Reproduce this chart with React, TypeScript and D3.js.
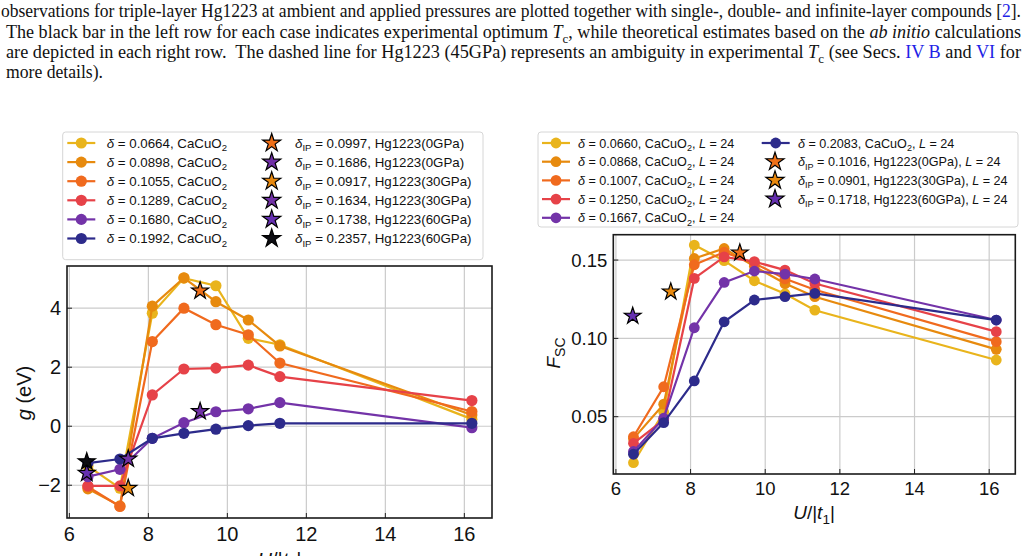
import React from "react";
import * as d3 from "d3";

// U/|t1| sampling shared by every CaCuO2 curve
const uValues = [6.47, 7.28, 8.1, 8.9, 9.71, 10.53, 11.33, 16.19];

// left panel: g (eV)
const gDeltas = ["0.0664", "0.0898", "0.1055", "0.1289", "0.1680", "0.1992"];
const g0664 = [-1.35, -2.1, 3.83, 5.02, 4.76, 2.98, 2.76, 0.24];
const g0898 = [-2.12, -2.7, 4.07, 5.03, 4.22, 3.6, 2.72, 0.38];
const g1055 = [-2.05, -2.72, 2.87, 4.0, 3.44, 3.1, 2.14, 0.5];
const g1289 = [-2.02, -2.02, 1.06, 1.94, 1.97, 2.07, 1.68, 0.87];
const g1680 = [-1.71, -1.46, -0.41, 0.12, 0.49, 0.59, 0.8, -0.05];
const g1992 = [-1.25, -1.11, -0.41, -0.24, -0.1, 0.02, 0.1, 0.1];
const gSeries = [g0664, g0898, g1055, g1289, g1680, g1992];

const gStarDeltas = ["0.0997", "0.1686", "0.0917", "0.1634", "0.1738", "0.2357"];
const gStarLabels = ["Hg1223(0GPa)", "Hg1223(0GPa)", "Hg1223(30GPa)", "Hg1223(30GPa)", "Hg1223(60GPa)", "Hg1223(60GPa)"];
const gStarU = [9.31, 9.31, 7.49, 7.49, 6.44, 6.44];
const gStarValues = [4.59, 0.5, -2.1, -1.11, -1.59, -1.2];

// right panel: F_SC, L = 24
const fDeltas = ["0.0660", "0.0868", "0.1007", "0.1250", "0.1667", "0.2083"];
const f0660 = [0.0206, 0.053, 0.1596, 0.1496, 0.1368, 0.1285, 0.118, 0.0862];
const f0868 = [0.036, 0.058, 0.151, 0.1574, 0.146, 0.135, 0.1266, 0.093];
const f1007 = [0.0372, 0.0691, 0.147, 0.155, 0.148, 0.138, 0.131, 0.0979];
const f1250 = [0.033, 0.048, 0.1383, 0.152, 0.149, 0.1436, 0.135, 0.1043];
const f1667 = [0.0278, 0.049, 0.1068, 0.1357, 0.143, 0.141, 0.1379, 0.1117];
const f2083 = [0.026, 0.0462, 0.0728, 0.1106, 0.1245, 0.1266, 0.1287, 0.1117];
const fSeries = [f0660, f0868, f1007, f1250, f1667, f2083];

const fStarDeltas = ["0.1016", "0.0901", "0.1718"];
const fStarLabels = ["Hg1223(0GPa)", "Hg1223(30GPa)", "Hg1223(60GPa)"];
const fStarU = [9.32, 7.47, 6.45];
const fStarValues = [0.1547, 0.1298, 0.1143];

const xTicks = [6, 8, 10, 12, 14, 16];
const gTicks = [-2, 0, 2, 4];
const fTicks = [0.05, 0.1, 0.15];

const lineColors = ["#e9b41c", "#e78a0e", "#f06a1e", "#e64248", "#7333a8", "#2d2b8b"];
const gStarColors = ["#ef7019", "#7030a6", "#e8890f", "#7232a6", "#6530b0", "#0d0d12"];
const fStarColors = ["#ef7019", "#e8890f", "#6530b0"];

const SANS = "'Liberation Sans', Arial, Helvetica, sans-serif";
const SERIF = "'Liberation Serif', 'Times New Roman', serif";

function starPath(R: number) {
  const r = R * 0.382;
  const pts: string[] = [];
  for (let i = 0; i < 10; i++) {
    const a = -Math.PI / 2 + (i * Math.PI) / 5;
    const rad = i % 2 === 0 ? R : r;
    pts.push(`${(rad * Math.cos(a)).toFixed(2)},${(rad * Math.sin(a)).toFixed(2)}`);
  }
  return "M" + pts.join("L") + "Z";
}

const fmtTick = (d: number) => (d < 0 ? "\u2212" + Math.abs(d) : String(d));

// legend entry: "δ = x, CaCuO2" or "δIP = x, Hg1223(..)", optionally ", L = 24"
function DeltaLabel({ x, y, delta, size, ip, tail, L }: any) {
  const down = size * 0.28;
  const small = size * 0.72;
  const withL = L ? (
    <>
      <tspan fontStyle="italic">L</tspan>
      <tspan>{" = 24"}</tspan>
    </>
  ) : null;
  return (
    <text x={x} y={y} fontSize={size} fontFamily={SANS} fill="#111">
      <tspan fontStyle="italic">δ</tspan>
      {ip ? (
        <>
          <tspan dy={down} fontSize={small}>IP</tspan>
          <tspan dy={-down}>{` = ${delta}, ${tail}${L ? ", " : ""}`}</tspan>
          {withL}
        </>
      ) : (
        <>
          <tspan>{` = ${delta}, CaCuO`}</tspan>
          <tspan dy={down} fontSize={small}>2</tspan>
          {L ? <tspan dy={-down}>{", "}</tspan> : null}
          {withL}
        </>
      )}
    </text>
  );
}

function Panel({ box, xDomain, yDomain, yTicks, yFmt, series, stars, starColors, tickSize, r, starR }: any) {
  const x = d3.scaleLinear().domain(xDomain).range([box.left, box.right]);
  const y = d3.scaleLinear().domain(yDomain).range([box.bottom, box.top]);
  const line = d3
    .line<number>()
    .x((_, i) => x(uValues[i]))
    .y((d) => y(d));
  return (
    <g>
      {xTicks.map((t) => (
        <line key={"gx" + t} x1={x(t)} x2={x(t)} y1={box.top} y2={box.bottom} stroke="#cbcbcb" strokeWidth={1.2} />
      ))}
      {yTicks.map((t: number) => (
        <line key={"gy" + t} x1={box.left} x2={box.right} y1={y(t)} y2={y(t)} stroke="#cbcbcb" strokeWidth={1.2} />
      ))}
      {xTicks.map((t) => (
        <line key={"tx" + t} x1={x(t)} x2={x(t)} y1={box.bottom} y2={box.bottom - 5} stroke="#222" strokeWidth={1} />
      ))}
      {yTicks.map((t: number) => (
        <line key={"ty" + t} x1={box.left} x2={box.left + 5} y1={y(t)} y2={y(t)} stroke="#222" strokeWidth={1} />
      ))}
      {series.map((s: number[], i: number) => (
        <g key={"s" + i}>
          <path d={line(s) || ""} fill="none" stroke={lineColors[i]} strokeWidth={2.2} />
          {s.map((v, j) => (
            <circle key={j} cx={x(uValues[j])} cy={y(v)} r={r} fill={lineColors[i]} />
          ))}
        </g>
      ))}
      {stars.u.map((u: number, i: number) => (
        <path
          key={"st" + i}
          d={starPath(starR)}
          transform={`translate(${x(u)},${y(stars.v[i])})`}
          fill={starColors[i]}
          stroke="#000"
          strokeWidth={1.2}
        />
      ))}
      <rect
        x={box.left}
        y={box.top}
        width={box.right - box.left}
        height={box.bottom - box.top}
        fill="none"
        stroke="#1a1a1a"
        strokeWidth={1.6}
      />
      {xTicks.map((t) => (
        <text key={"lx" + t} x={x(t)} y={box.bottom + tickSize * 1.15} fontSize={tickSize} fontFamily={SANS} textAnchor="middle" fill="#111">
          {fmtTick(t)}
        </text>
      ))}
      {yTicks.map((t: number) => (
        <text
          key={"ly" + t}
          x={box.left - 6}
          y={y(t) + tickSize * 0.36}
          fontSize={tickSize}
          fontFamily={SANS}
          textAnchor="end"
          fill="#111"
        >
          {yFmt(t)}
        </text>
      ))}
    </g>
  );
}

function Caption() {
  const size = 18;
  const sub = size * 0.28;
  const lines = [
    {
      x: 1,
      y: 17,
      len: 1020,
      body: (
        <>
          <tspan>observations for triple-layer Hg1223 at ambient and applied pressures are plotted together with single-, double- and infinite-layer compounds [</tspan>
          <tspan fill="#1f1fe6">2</tspan>
          <tspan>].</tspan>
        </>
      ),
    },
    {
      x: 6,
      y: 37.5,
      len: 1015,
      body: (
        <>
          <tspan>The black bar in the left row for each case indicates experimental optimum </tspan>
          <tspan fontStyle="italic">T</tspan>
          <tspan dy={sub} fontSize={size * 0.72}>c</tspan>
          <tspan dy={-sub}>, while theoretical estimates based on the </tspan>
          <tspan fontStyle="italic">ab initio</tspan>
          <tspan> calculations</tspan>
        </>
      ),
    },
    {
      x: 6,
      y: 58,
      len: 1015,
      body: (
        <>
          <tspan>are depicted in each right row.{"  "}The dashed line for Hg1223 (45GPa) represents an ambiguity in experimental </tspan>
          <tspan fontStyle="italic">T</tspan>
          <tspan dy={sub} fontSize={size * 0.72}>c</tspan>
          <tspan dy={-sub}> (see Secs. </tspan>
          <tspan fill="#1f1fe6">IV B</tspan>
          <tspan> and </tspan>
          <tspan fill="#1f1fe6">VI</tspan>
          <tspan> for</tspan>
        </>
      ),
    },
    { x: 6, y: 78, len: 97, body: <tspan>more details).</tspan> },
  ];
  return (
    <g>
      {lines.map((l, i) => (
        <text
          key={i}
          x={l.x}
          y={l.y}
          fontSize={size}
          fontFamily={SERIF}
          fill="#111"
          textLength={l.len}
          lengthAdjust="spacingAndGlyphs"
          style={{ whiteSpace: "pre" }}
        >
          {l.body}
        </text>
      ))}
    </g>
  );
}

function LineKey({ x, y, color, r }: any) {
  return (
    <g>
      <line x1={x} x2={x + 28} y1={y} y2={y} stroke={color} strokeWidth={2.2} />
      <circle cx={x + 14} cy={y} r={r} fill={color} />
    </g>
  );
}

function StarKey({ x, y, color }: any) {
  return <path d={starPath(9.5)} transform={`translate(${x},${y})`} fill={color} stroke="#000" strokeWidth={1.2} />;
}

export default function App() {
  const leftBox = { left: 67, right: 492, top: 266, bottom: 518 };
  const rightBox = { left: 613.3, right: 1015.3, top: 234.7, bottom: 474 };

  return (
    <svg width={1029} height={556} style={{ position: "absolute", left: 0, top: 0, background: "#fff" }}>
      <Caption />

      {/* left: interaction g vs U/|t1| */}
      <Panel
        box={leftBox}
        xDomain={[5.94, 16.7]}
        yDomain={[-3.11, 5.43]}
        yTicks={gTicks}
        yFmt={fmtTick}
        series={gSeries}
        stars={{ u: gStarU, v: gStarValues }}
        starColors={gStarColors}
        tickSize={20}
        r={5.6}
        starR={9}
      />
      <text transform="translate(31,393) rotate(-90)" fontSize={20} fontFamily={SANS} textAnchor="middle" fill="#111">
        <tspan fontStyle="italic">g</tspan>
        <tspan> (eV)</tspan>
      </text>
      <text x={279.5} y={567} fontSize={20} fontFamily={SANS} textAnchor="middle" fill="#111">
        <tspan fontStyle="italic">U</tspan>
        <tspan>/|</tspan>
        <tspan fontStyle="italic">t</tspan>
        <tspan dy={5} fontSize={14}>1</tspan>
        <tspan dy={-5}>|</tspan>
      </text>

      {/* left legend */}
      <rect x={62.7} y={132} width={420.3} height={127.7} rx={3} fill="#fff" stroke="#d6d6d6" strokeWidth={1} />
      {gDeltas.map((d, i) => (
        <g key={"lg" + i}>
          <LineKey x={67.3} y={143 + i * 19.1} color={lineColors[i]} r={5.6} />
          <DeltaLabel x={106.7} y={143 + i * 19.1 + 4.6} delta={d} size={13.3} />
        </g>
      ))}
      {gStarDeltas.map((d, i) => (
        <g key={"ls" + i}>
          <StarKey x={271.7} y={143 + i * 19.1} color={gStarColors[i]} />
          <DeltaLabel x={295} y={143 + i * 19.1 + 4.6} delta={d} size={13.3} ip tail={gStarLabels[i]} />
        </g>
      ))}

      {/* right: F_SC vs U/|t1| */}
      <Panel
        box={rightBox}
        xDomain={[5.93, 16.7]}
        yDomain={[0.0134, 0.1662]}
        yTicks={fTicks}
        yFmt={d3.format(".2f")}
        series={fSeries}
        stars={{ u: fStarU, v: fStarValues }}
        starColors={fStarColors}
        tickSize={18.5}
        r={5.4}
        starR={8.8}
      />
      <text transform="translate(560,353) rotate(-90)" fontSize={19} fontFamily={SANS} textAnchor="middle" fill="#111">
        <tspan fontStyle="italic">F</tspan>
        <tspan dy={5} fontSize={14}>SC</tspan>
      </text>
      <text x={814} y={519} fontSize={19} fontFamily={SANS} textAnchor="middle" fill="#111">
        <tspan fontStyle="italic">U</tspan>
        <tspan>/|</tspan>
        <tspan fontStyle="italic">t</tspan>
        <tspan dy={5} fontSize={13.5}>1</tspan>
        <tspan dy={-5}>|</tspan>
      </text>

      {/* right legend */}
      <rect x={538} y={132} width={480} height={95} rx={3} fill="#fff" stroke="#d6d6d6" strokeWidth={1} />
      {fDeltas.map((d, i) => {
        const col = i < 5 ? 0 : 1;
        const row = i < 5 ? i : 0;
        const kx = col === 0 ? 542 : 761.7;
        const tx = col === 0 ? 578 : 798;
        return (
          <g key={"rg" + i}>
            <LineKey x={kx} y={143 + row * 18.7} color={lineColors[i]} r={5.4} />
            <DeltaLabel x={tx} y={143 + row * 18.7 + 4.5} delta={d} size={12.6} L />
          </g>
        );
      })}
      {fStarDeltas.map((d, i) => (
        <g key={"rs" + i}>
          <StarKey x={775} y={143 + (i + 1) * 18.7} color={fStarColors[i]} />
          <DeltaLabel x={798} y={143 + (i + 1) * 18.7 + 4.5} delta={d} size={12.6} ip tail={fStarLabels[i]} L />
        </g>
      ))}
    </svg>
  );
}
